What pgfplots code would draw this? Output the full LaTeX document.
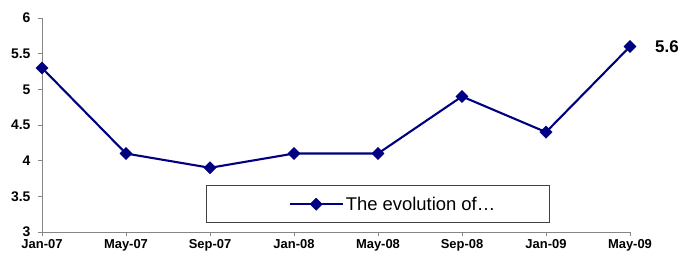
\documentclass[border=0pt]{standalone}
\usepackage{pgfplots}
\pgfplotsset{compat=1.18}
\usepackage{fontspec}
\setmainfont{Liberation Sans}
\usetikzlibrary{calc}
\definecolor{navyline}{RGB}{0,0,128}
\definecolor{axgray}{RGB}{134,134,134}
\newcommand{\yl}[1]{{\fontsize{14}{15}\selectfont\bfseries #1}}
\newcommand{\xl}[1]{{\fontsize{13}{14}\selectfont\bfseries #1}}
\begin{document}
\begin{tikzpicture}
\begin{axis}[
  scale only axis,
  width=588bp, height=214bp,
  xmin=0, xmax=7, ymin=3, ymax=6,
  axis x line=bottom, axis y line=left,
  axis line style={-, draw=axgray, line width=1pt},
  tick style={draw=axgray, line width=0.8pt},
  tick align=outside,
  major tick length=4bp,
  xtick={0,...,7},
  xticklabels={\xl{Jan-07},\xl{May-07},\xl{Sep-07},\xl{Jan-08},\xl{May-08},\xl{Sep-08},\xl{Jan-09},\xl{May-09}},
  ytick={3,3.5,...,6},
  yticklabels={\yl{3},\yl{3.5},\yl{4},\yl{4.5},\yl{5},\yl{5.5},\yl{6}},
  yticklabel style={xshift=-4bp},
  /pgf/number format/assume math mode=true,
  clip=false,
  legend style={at={(axis cs:4,3.39)}, anchor=center, draw=black!75, line width=0.6pt,
    font=\fontsize{18.5}{20}\selectfont, inner xsep=52bp, inner ysep=9bp},
  legend image code/.code={
    \path (-30bp,0bp);
    \draw[mark repeat=2,mark phase=2,#1] plot coordinates {(0bp,0bp) (26.5bp,0bp) (53bp,0bp)};
  },
]
\addplot[navyline, line width=2.1pt, mark=square*, mark size=4.3pt,
  mark options={rotate=45, solid, fill=navyline, draw=navyline, line width=0.5pt}]
  coordinates {(0,5.3) (1,4.1) (2,3.9) (3,4.1) (4,4.1) (5,4.9) (6,4.4) (7,5.6)};
\addlegendentry{The evolution of…}
\node[anchor=west, font=\bfseries\fontsize{17}{18}\selectfont, inner sep=0pt] at ($(axis cs:7,5.6)+(25bp,0bp)$) {5.6};
\end{axis}
\pgfresetboundingbox
\path ($(current axis.south west)+(-42bp,-24bp)$) rectangle ($(current axis.south west)+(641bp,232bp)$);
\end{tikzpicture}
\end{document}
